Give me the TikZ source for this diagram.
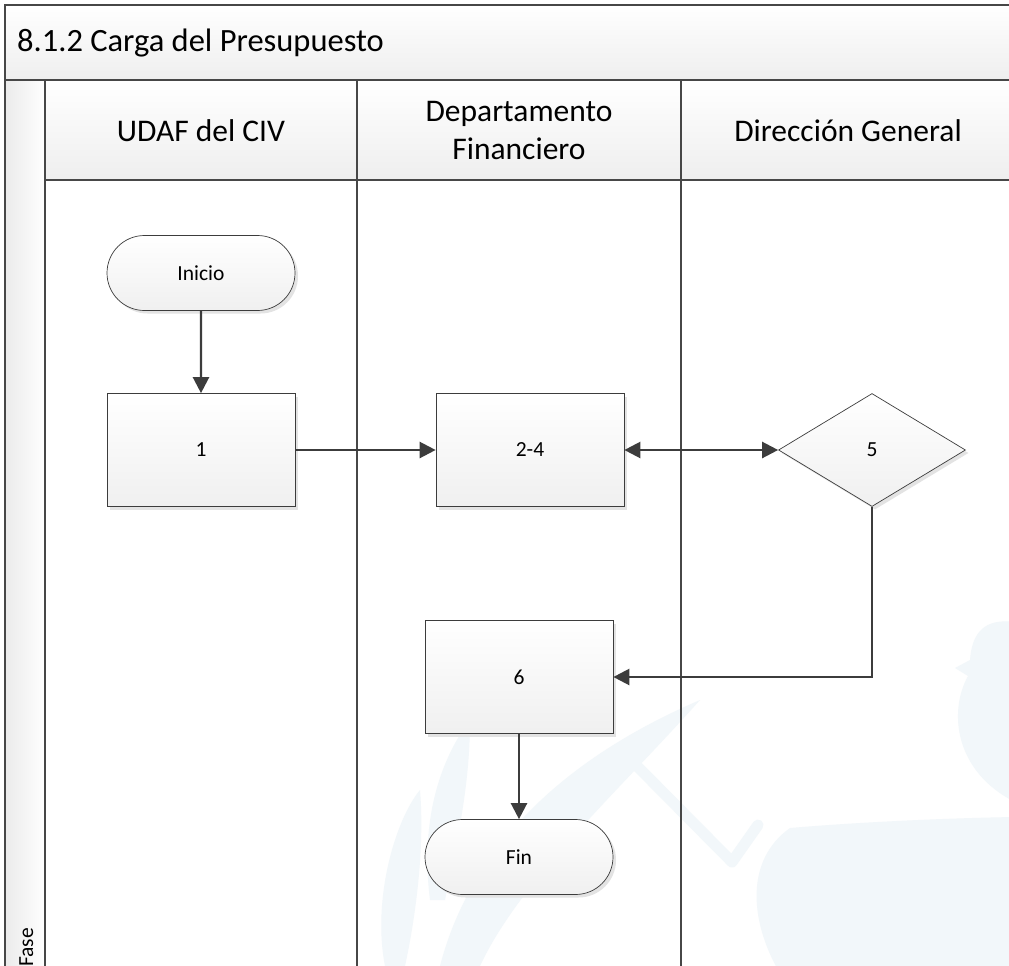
\documentclass[tikz,border=0pt]{standalone}
\usepackage{fontspec}
\setmainfont{Carlito}
\usetikzlibrary{shapes.geometric,shapes.misc,arrows.meta,shadows}
\definecolor{edge}{HTML}{3C3C3C}
\definecolor{frame}{HTML}{474747}
\definecolor{wm}{HTML}{F2F7FA}

\tikzset{
  lane/.style={draw=frame, line width=2.2pt},
  band/.style={top color=white, bottom color=gray!13},
  flowbox/.style={draw=edge, line width=0.7pt, top color=white, bottom color=gray!12,
    drop shadow={shadow xshift=3pt, shadow yshift=-3pt, fill=gray!22, opacity=1},
    font=\fontsize{21.5}{26}\selectfont, inner sep=0pt},
  task/.style={flowbox, rectangle, minimum width=188pt, minimum height=113pt},
  terminal/.style={flowbox, rounded rectangle, minimum width=188pt, minimum height=75pt},
  decision/.style={flowbox, diamond, minimum width=187pt, minimum height=113pt},
  tip/.tip={Triangle[length=16pt,width=16pt]},
  flow/.style={draw=edge, line width=2.4pt, -tip},
  header/.style={font=\fontsize{31.5}{38}\selectfont, align=center},
}

\begin{document}
\begin{tikzpicture}[x=1pt,y=-1pt]
  \useasboundingbox (0,0) rectangle (1009,966);
  \fill[white] (0,0) rectangle (1009,966);

  % pool background bands
  \fill[band] (5,5) rectangle (1015,80);
  \fill[band] (45,80) rectangle (1015,180);
  \fill[left color=gray!16, right color=white] (5,80) rectangle (45,970);

  % faint logo in the background
  \begin{scope}
    \fill[wm] (790,828) .. controls (860,822) and (950,818) .. (1015,817)
      -- (1015,970) -- (778,970) .. controls (750,920) and (745,860) .. (790,828) -- cycle;
    \fill[wm] (1015,622) .. controls (985,618) and (972,632) .. (970,660)
      -- (955,668) -- (968,676) .. controls (948,712) and (955,772) .. (1015,802) -- cycle;
    \draw[wm, line width=11pt, line join=round, line cap=round]
      (629,758) -- (732,862) -- (758,825);
    \fill[wm] (385,966) .. controls (372,900) and (395,820) .. (420,790)
      .. controls (425,850) and (415,920) .. (405,966) -- cycle;
    \fill[wm] (440,966) .. controls (470,850) and (560,760) .. (700,700)
      .. controls (620,790) and (520,880) .. (480,966) -- cycle;
    \fill[wm] (430,900) .. controls (420,820) and (440,760) .. (470,720)
      .. controls (470,790) and (455,850) .. (445,900) -- cycle;
  \end{scope}

  % pool frame and lane separators
  \draw[lane] (5,970) -- (5,5) -- (1015,5);
  \draw[lane] (5,80) -- (1015,80);
  \draw[lane] (45,80) -- (45,970);
  \draw[lane] (45,180) -- (1015,180);
  \draw[lane] (357,80) -- (357,970);
  \draw[lane] (681,80) -- (681,970);

  % titles
  \node[anchor=west, font=\fontsize{32.5}{38}\selectfont, inner sep=0pt] (title) at (17,43) {8.1.2 Carga del Presupuesto};
  \node[header] (laneA) at (201,131) {UDAF del CIV};
  \node[header] (laneB) at (519,131) {Departamento\\Financiero};
  \node[header] (laneC) at (848,131) {Dirección General};
  \node[rotate=90, anchor=base west, font=\fontsize{21.5}{26}\selectfont, inner sep=0pt] (phase) at (33,967) {Fase};

  % flow elements
  \node[terminal] (inicio) at (201,273) {Inicio};
  \node[task] (t1) at (201,450) {1};
  \node[task] (t24) at (530,450) {2-4};
  \node[decision] (d5) at (872,450) {5};
  \node[task] (t6) at (519,677) {6};
  \node[terminal] (fin) at (519,857) {Fin};

  % connectors
  \draw[flow] (inicio) -- (t1);
  \draw[flow] (t1) -- (t24);
  \draw[flow, tip-tip] (t24) -- (d5);
  \draw[flow] (d5.south) |- (t6.east);
  \draw[flow] (t6) -- (fin);
\end{tikzpicture}
\end{document}
